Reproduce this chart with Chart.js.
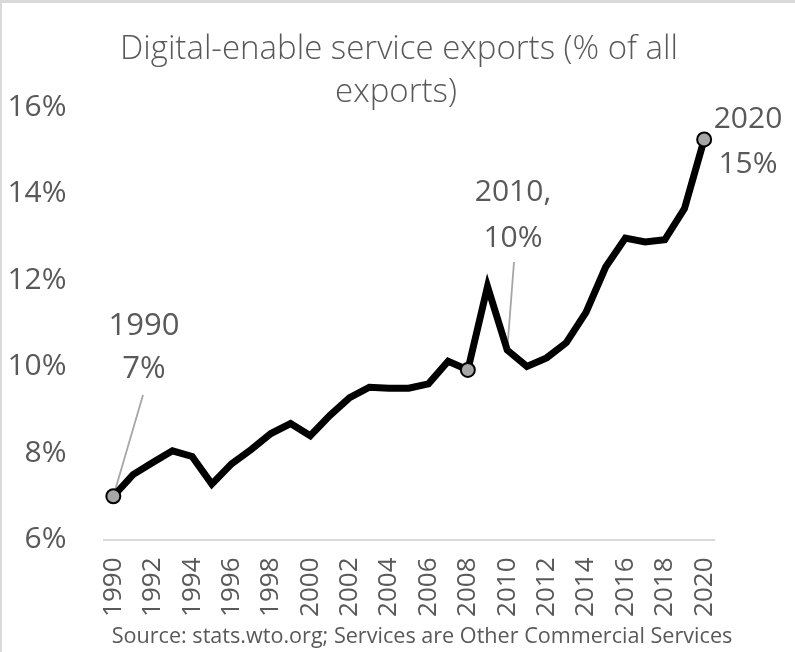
<!DOCTYPE html>
<html>
<head>
<meta charset="utf-8">
<script src="https://cdn.jsdelivr.net/npm/chart.js@4.4.1/dist/chart.umd.min.js"></script>
<style>
body{margin:0;background:#fff}
#wrap{position:relative;width:795px;height:652px}
</style>
</head>
<body>
<div id="wrap"><canvas id="grafico" width="795" height="652"></canvas></div>
<script>
// dados
let anos = ["1990","1991","1992","1993","1994","1995","1996","1997","1998","1999",
            "2000","2001","2002","2003","2004","2005","2006","2007","2008","2009",
            "2010","2011","2012","2013","2014","2015","2016","2017","2018","2019","2020"]
let valores = [7.0, 7.5, 7.78, 8.05, 7.92, 7.28, 7.75, 8.08, 8.45, 8.68,
               8.4, 8.87, 9.28, 9.52, 9.5, 9.5, 9.6, 10.12, 9.92, 11.85,
               10.38, 10.0, 10.2, 10.55, 11.25, 12.3, 12.97, 12.88, 12.93, 13.65, 15.25]
let ticks_y = [6, 8, 10, 12, 14, 16]
let anos_marcados = ["1990", "2008", "2020"]
let titulo = ["Digital-enable service exports (% of all", "exports)"]
let fonte_texto = "Source: stats.wto.org; Services are Other Commercial Services"
let nota_1990 = ["1990", "7%"]
let nota_2010 = ["2010,", "10%"]
let nota_2020 = ["2020", "15%"]

const cinza = "#595959"
const familia = "'Open Sans', 'Liberation Sans', sans-serif"

function escrever(ctx, linhas, x, y, passo, tamanho) {
    ctx.save()
    ctx.fillStyle = cinza
    ctx.font = tamanho + "px " + familia
    ctx.textAlign = "center"
    ctx.textBaseline = "alphabetic"
    for (let i = 0; i < linhas.length; i++) {
        ctx.fillText(linhas[i], x, y + i * passo)
    }
    ctx.restore()
}

function guia(chart, ano, x0, y0) {
    let ctx = chart.ctx
    let i = anos.indexOf(ano)
    let x1 = chart.scales.x.getPixelForValue(i)
    let y1 = chart.scales.y.getPixelForValue(valores[i])
    ctx.save()
    ctx.strokeStyle = "#a6a6a6"
    ctx.lineWidth = 1.8
    ctx.beginPath()
    ctx.moveTo(x0, y0)
    ctx.lineTo(x1, y1)
    ctx.stroke()
    ctx.restore()
}

const extras = {
    id: "extras",
    beforeDraw(chart) {
        let ctx = chart.ctx
        ctx.save()
        ctx.fillStyle = "#fff"
        ctx.fillRect(0, 0, chart.width, chart.height)
        ctx.fillStyle = "#d9d9d9" //moldura
        ctx.fillRect(0, 0, chart.width, 3)
        ctx.fillRect(0, 0, 2, chart.height)
        ctx.restore()
    },
    beforeDatasetsDraw(chart) {
        guia(chart, "1990", 143, 395)
        guia(chart, "2010", 514, 262)
    },
    afterDraw(chart) {
        let ctx = chart.ctx
        ctx.save()
        ctx.font = "300 33px " + familia
        ctx.fillStyle = cinza
        ctx.textAlign = "center"
        ctx.fillText(titulo[0], 399, 59)
        ctx.fillText(titulo[1], 396, 102)
        ctx.font = "21.6px " + familia
        ctx.fillText(fonte_texto, 422, 643)
        ctx.restore()
        escrever(ctx, nota_1990, 144, 335, 43, 31)
        escrever(ctx, nota_2010, 513, 201, 46, 30)
        escrever(ctx, nota_2020, 748, 128, 45, 30)
    }
}

const ctx = document.getElementById("grafico").getContext("2d")
const grafico = new Chart(ctx, {
    type: "line",
    data: {
        labels: anos,
        datasets: [{
            data: valores,
            borderColor: "#000",
            borderWidth: 7,
            borderJoinStyle: "miter",
            tension: 0,
            fill: false,
            clip: false,
            pointRadius: anos.map(a => anos_marcados.includes(a) ? 7 : 0),
            pointHoverRadius: anos.map(a => anos_marcados.includes(a) ? 7 : 0),
            pointBackgroundColor: "#a6a6a6",
            pointBorderColor: "#000",
            pointBorderWidth: 2
        }]
    },
    options: {
        responsive: false,
        animation: false,
        devicePixelRatio: 1,
        events: [],
        layout: { padding: { left: 0, right: 81, top: 107, bottom: 0 } },
        plugins: { legend: { display: false }, title: { display: false }, tooltip: { enabled: false } },
        scales: {
            x: {
                offset: true,
                grid: { display: false, drawTicks: false },
                border: { display: true, color: "#d9d9d9", width: 2 },
                ticks: {
                    autoSkip: false,
                    minRotation: 90,
                    maxRotation: 90,
                    padding: 18,
                    color: cinza,
                    font: { family: familia, size: 26 },
                    callback: function(v, i) { return i % 2 === 0 ? anos[i] : "" }
                },
                afterFit: function(scale) { scale.height = 112.5 }
            },
            y: {
                min: ticks_y[0],
                max: ticks_y[ticks_y.length - 1],
                grid: { display: false, drawTicks: false },
                border: { display: false },
                afterBuildTicks: function(scale) { scale.ticks = ticks_y.map(v => ({ value: v })) },
                ticks: {
                    padding: 37,
                    color: cinza,
                    font: { family: familia, size: 30 },
                    callback: function(v) { return v + "%" }
                },
                afterFit: function(scale) { scale.width = 103.5 }
            }
        }
    },
    plugins: [extras]
})
</script>
</body>
</html>
